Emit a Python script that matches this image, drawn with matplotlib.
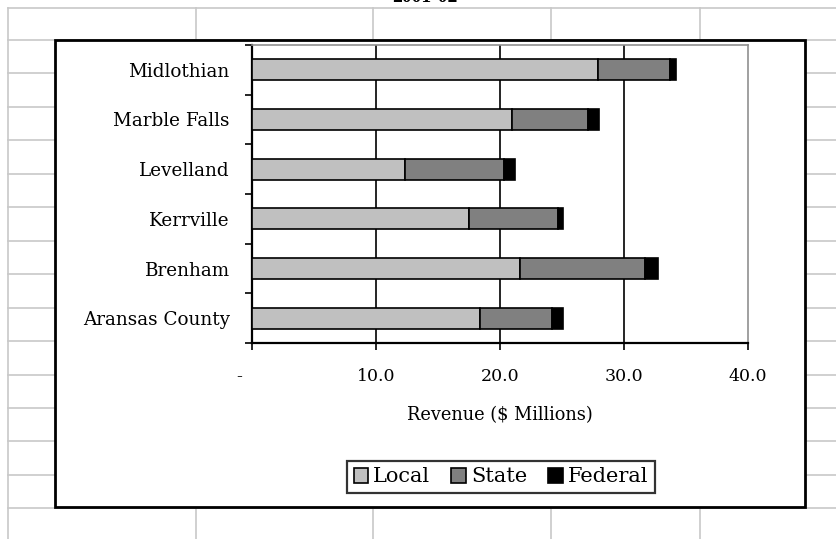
import numpy as np
import matplotlib
matplotlib.use("Agg")
import matplotlib.pyplot as plt
from matplotlib.lines import Line2D
from matplotlib.patches import Rectangle

# revenue by source, $ millions (bottom to top)
cities = ["Aransas County", "Brenham", "Kerrville", "Levelland", "Marble Falls", "Midlothian"]
local = [18.4, 21.6, 17.5, 12.3, 21.0, 27.9]
state = [5.8, 10.1, 7.2, 8.0, 6.1, 5.8]
federal = [0.9, 1.05, 0.4, 0.9, 0.85, 0.5]

xticks = [0, 10, 20, 30, 40]
xticklabels = ["", "10.0", "20.0", "30.0", "40.0"]

W, H = 836, 539
plt.rcParams["font.family"] = ["DejaVu Serif"]

fig = plt.figure(figsize=(W / 100, H / 100), dpi=100)
fig.patch.set_facecolor("white")


def px(x, y):
    # pixel coords (from top-left) -> figure fraction
    return x / W, 1 - y / H


# worksheet cell grid behind the chart
gc = "#c8c8c8"
for yy in [8] + list(np.arange(40, 540, 33.45)):
    fig.add_artist(Line2D([8 / W, 1], [1 - yy / H] * 2, color=gc, lw=1.2, zorder=-3))
for xx in [8, 196, 373, 551, 700]:
    fig.add_artist(Line2D([xx / W] * 2, [0, 1 - 8 / H], color=gc, lw=1.2, zorder=-3))

# title row (scrolled mostly out of view)
fig.text(425 / W, 1 - 2 / H, "2001-02", ha="center", va="baseline",
         fontsize=14, fontweight="bold", family="Liberation Serif")

# chart area
x0, y0 = px(55, 507)
x1, y1 = px(805, 40)
fig.add_artist(Rectangle((x0, y0), x1 - x0, y1 - y0, transform=fig.transFigure,
                         facecolor="white", edgecolor="black", lw=2, zorder=-1))

ax = fig.add_axes([252 / W, 1 - 343 / H, (748 - 252) / W, (343 - 45) / H])
ax.set_facecolor("white")

y = np.arange(len(cities))
h = 0.42
left2 = np.array(local)
left3 = left2 + np.array(state)
ax.barh(y, local, height=h, color="#c0c0c0", edgecolor="black", lw=1.2, label="Local", zorder=3)
ax.barh(y, state, left=left2, height=h, color="#808080", edgecolor="black", lw=1.2, label="State", zorder=3)
ax.barh(y, federal, left=left3, height=h, color="black", edgecolor="black", lw=1.2, label="Federal", zorder=3)

ax.set_xlim(0, 40)
ax.set_ylim(-0.5, len(cities) - 0.5)
ax.set_xticks(xticks)
ax.set_xticklabels(xticklabels, fontsize=12.5)
# zero shown as a dash, set a little left of the axis
ax.text(-1.0, -1.0, "-", fontsize=12.5, ha="center", va="top")

ax.set_yticks(y)
ax.set_yticklabels(cities, fontsize=13.2)
ax.set_yticks(np.arange(-0.5, len(cities), 1), minor=True)
ax.tick_params(axis="y", which="major", length=0, pad=16)
ax.tick_params(axis="y", which="minor", direction="out", length=5, width=1.2)
ax.tick_params(axis="x", direction="out", length=5, width=1.2, pad=13)

ax.grid(axis="x", color="black", lw=1.2, zorder=1)
ax.xaxis.get_gridlines()[-1].set_visible(False)
ax.set_axisbelow(True)

for s in ["left", "bottom"]:
    ax.spines[s].set_linewidth(1.6)
    ax.spines[s].set_color("black")
for s in ["top", "right"]:
    ax.spines[s].set_linewidth(1.2)
    ax.spines[s].set_color("#909090")

ax.set_xlabel("Revenue ($ Millions)", fontsize=12.8, labelpad=15)

leg = ax.legend(loc="center", bbox_to_anchor=(501 / W, 1 - 477 / H), bbox_transform=fig.transFigure,
                ncol=3, frameon=True, fancybox=False, edgecolor="black", fontsize=15,
                handlelength=0.7, handleheight=0.7, handletextpad=0.25, columnspacing=1.0,
                borderpad=0.3)
leg.get_frame().set_linewidth(1.6)

fig.savefig("out.png", dpi=100)
